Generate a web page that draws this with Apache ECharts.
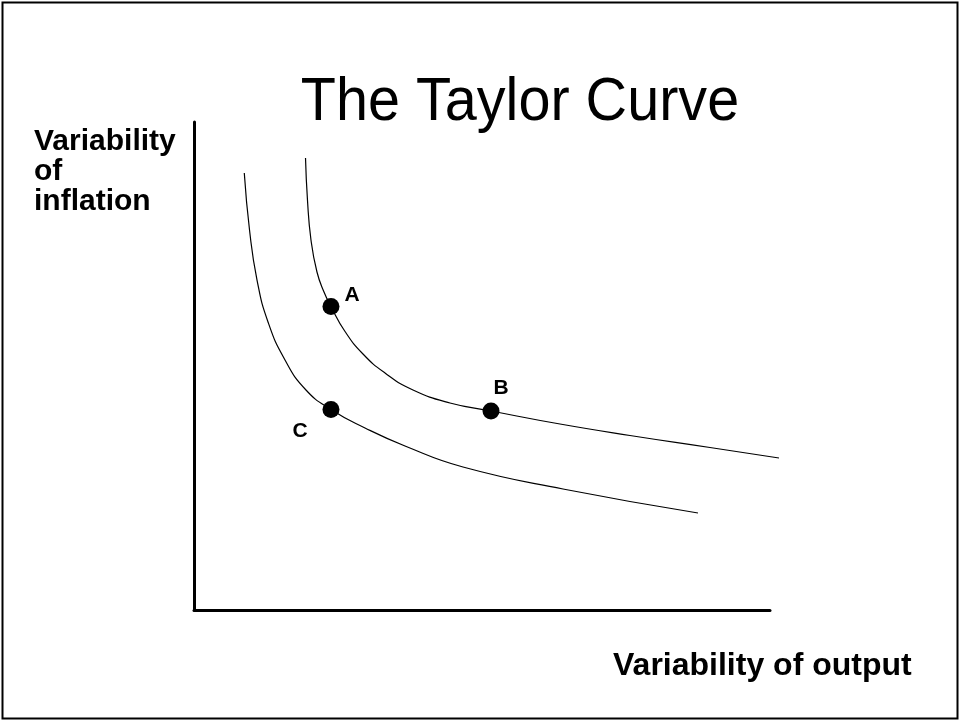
<!DOCTYPE html>
<html>
<head>
<meta charset="utf-8">
<title>The Taylor Curve</title>
<script src="https://cdn.jsdelivr.net/npm/echarts@6/dist/echarts.min.js"></script>
<style>
  html, body { margin: 0; padding: 0; background: #fff; }
  #main { width: 960px; height: 721px; }
</style>
</head>
<body>
<div id="main"></div>
<script>
// Curves: [variability of output, variability of inflation]
var outerCurve = [
  [19.36, 92.62], [19.70, 84.02], [20.31, 75.82], [21.35, 69.26], [22.57, 65.16],
  [23.78, 62.19], [26.22, 57.07], [29.34, 52.46], [33.16, 48.57], [38.02, 45.08],
  [44.44, 42.42], [51.56, 40.78], [63.54, 38.11], [75.69, 35.76], [89.58, 33.30],
  [101.56, 31.15]
];
var innerCurve = [
  [8.73, 89.55], [9.64, 77.87], [10.94, 67.62], [12.85, 59.02], [15.80, 51.23],
  [19.44, 45.08], [23.78, 41.09], [29.69, 37.30], [36.63, 33.61], [46.70, 29.30],
  [64.06, 24.80], [87.50, 19.88]
];
// Marked points
var pointNames = ["A", "B", "C"];
var pointValues = [[23.78, 62.19], [51.56, 40.78], [23.78, 41.09]];
var pointLabelOffsets = [[21, -11], [10, -23], [-31, 22]];

var FONT = "'Liberation Sans', Arial, sans-serif";

document.addEventListener("DOMContentLoaded", function () {
  var chartDom = document.getElementById("main");
  var myChart = echarts.init(chartDom, null, { renderer: "canvas" });

  var points = pointNames.map(function (n, i) {
    return {
      name: n,
      value: pointValues[i],
      label: { offset: pointLabelOffsets[i] }
    };
  });

  var curveStyle = { color: "#000", width: 1.2 };
  var hiddenAxis = {
    type: "value",
    min: 0,
    axisLine: { show: false },
    axisTick: { show: false },
    axisLabel: { show: false },
    splitLine: { show: false }
  };
  var frameAxis = {
    type: "value",
    min: 0,
    max: 100,
    axisLine: { show: true, lineStyle: { color: "#000", width: 3 } },
    axisTick: { show: false },
    axisLabel: { show: false },
    splitLine: { show: false }
  };

  var option = {
    backgroundColor: "#fff",
    animation: false,
    // grid 0 draws the two axes, grid 1 (same scale, a bit wider) holds the curves
    grid: [
      { left: 194, top: 122, right: 190, bottom: 111 },
      { left: 194, top: 122, right: 178.48, bottom: 111 }
    ],
    xAxis: [
      Object.assign({}, frameAxis, { gridIndex: 0 }),
      Object.assign({}, hiddenAxis, { gridIndex: 1, max: 102 })
    ],
    yAxis: [
      Object.assign({}, frameAxis, { gridIndex: 0 }),
      Object.assign({}, hiddenAxis, { gridIndex: 1, max: 100 })
    ],
    series: [
      {
        name: "Taylor curve 1",
        type: "line",
        xAxisIndex: 1,
        yAxisIndex: 1,
        data: outerCurve,
        smooth: 0.5,
        showSymbol: false,
        lineStyle: curveStyle
      },
      {
        name: "Taylor curve 2",
        type: "line",
        xAxisIndex: 1,
        yAxisIndex: 1,
        data: innerCurve,
        smooth: 0.5,
        showSymbol: false,
        lineStyle: curveStyle
      },
      {
        name: "Points",
        type: "scatter",
        xAxisIndex: 1,
        yAxisIndex: 1,
        data: points,
        symbol: "circle",
        symbolSize: 17,
        itemStyle: { color: "#000", opacity: 1 },
        z: 5,
        label: {
          show: true,
          position: "inside",
          formatter: "{b}",
          color: "#000",
          fontFamily: FONT,
          fontWeight: "bold",
          fontSize: 21
        }
      }
    ],
    graphic: [
      {
        type: "rect",
        shape: { x: 2.5, y: 2.5, width: 955, height: 716 },
        style: { fill: null, stroke: "#000", lineWidth: 2 },
        silent: true
      },
      {
        type: "text",
        x: 520,
        y: 103,
        scaleX: 1.01,
        scaleY: 1.08,
        style: {
          text: "The Taylor Curve",
          fontFamily: FONT,
          fontSize: 57,
          fill: "#000",
          align: "center",
          verticalAlign: "middle"
        }
      },
      {
        type: "text",
        x: 34,
        y: 127,
        style: {
          text: "Variability\nof\ninflation",
          fontFamily: FONT,
          fontSize: 30,
          fontWeight: "bold",
          lineHeight: 30,
          fill: "#000",
          align: "left",
          verticalAlign: "top"
        }
      },
      {
        type: "text",
        x: 613,
        y: 666,
        style: {
          text: "Variability of output",
          fontFamily: FONT,
          fontSize: 32,
          fontWeight: "bold",
          fill: "#000",
          align: "left",
          verticalAlign: "middle"
        }
      }
    ]
  };

  myChart.setOption(option);
});
</script>
</body>
</html>
